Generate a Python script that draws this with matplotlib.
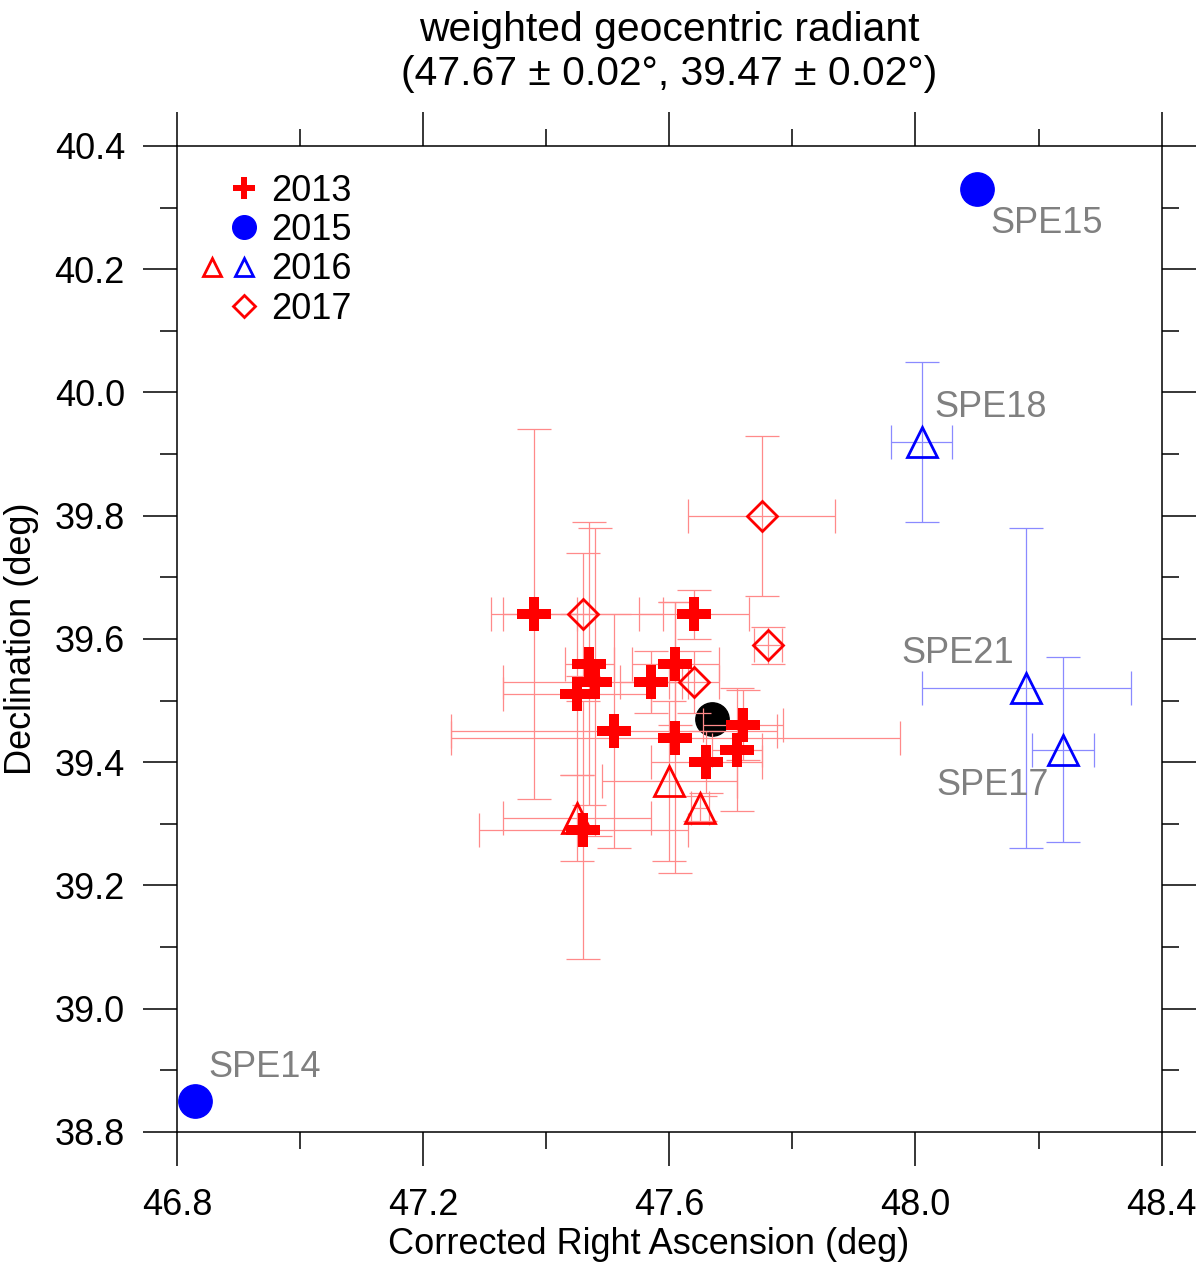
import matplotlib
matplotlib.use("Agg")
import matplotlib.pyplot as plt
from matplotlib.lines import Line2D
from matplotlib.legend_handler import HandlerTuple
from matplotlib.path import Path
from matplotlib.ticker import MultipleLocator

# 2013 (filled crosses)
ra13 = [47.38, 47.64, 47.47, 47.48, 47.45, 47.57, 47.61, 47.51, 47.61, 47.66, 47.72, 47.71, 47.46]
de13 = [39.64, 39.64, 39.56, 39.53, 39.51, 39.53, 39.56, 39.45, 39.44, 39.40, 39.46, 39.42, 39.29]
xerr13 = [0.07, 0.09, 0.04, 0.15, 0.12, 0.05, 0.07, 0.265, 0.365, 0.09, 0.065, 0.04, 0.17]
yerr13 = [0.30, 0.04, 0.23, 0.25, 0.13, 0.05, 0.10, 0.19, 0.22, 0.05, 0.057, 0.10, 0.21]

# 2015 (blue filled circles)
ra15 = [48.10, 46.83]
de15 = [40.33, 38.85]
names15 = ["SPE15", "SPE14"]

# 2016 red (open triangles)
ra16r = [47.60, 47.65, 47.45]
de16r = [39.37, 39.325, 39.31]
xerr16r = [0.11, 0.015, 0.12]
yerr16r = [0.13, 0.02, 0.07]

# 2016 blue (open triangles)
ra16b = [48.01, 48.18, 48.24]
de16b = [39.92, 39.52, 39.42]
xerr16b = [0.05, 0.17, 0.05]
yerr16b = [0.13, 0.26, 0.15]
names16b = ["SPE18", "SPE21", "SPE17"]

# 2017 (open diamonds)
ra17 = [47.75, 47.46, 47.76, 47.64]
de17 = [39.80, 39.64, 39.59, 39.53]
xerr17 = [0.12, 0.13, 0.023, 0.04]
yerr17 = [0.13, 0.10, 0.03, 0.05]

# weighted geocentric radiant
ra_w = 47.67
de_w = 39.47

# label offsets in points (dx, dy, ha)
label_offsets = {
    "SPE15": (10, -25, "left"),
    "SPE14": (9, 24, "left"),
    "SPE18": (9, 25, "left"),
    "SPE21": (-9, 25, "right"),
    "SPE17": (-10, -26, "right"),
}

# plus sign with slightly thinner arms than matplotlib's "P"
_t = 0.15
PLUS = Path([(-_t, -0.5), (_t, -0.5), (_t, -_t), (0.5, -_t), (0.5, _t), (_t, _t),
             (_t, 0.5), (-_t, 0.5), (-_t, _t), (-0.5, _t), (-0.5, -_t), (-_t, -_t),
             (-_t, -0.5)], closed=True)


def main() -> None:
    plt.rcParams["font.family"] = ["Liberation Sans", "DejaVu Sans"]
    fig = plt.figure(figsize=(12, 12.69), dpi=100)
    ax = fig.add_axes([0.1475, 0.108, 0.8205, 0.777])

    red_err = "#ff8a8a"
    blue_err = "#8a8aff"
    ebar = dict(fmt="none", elinewidth=0.9, capsize=12, capthick=0.9, zorder=2)

    ax.plot([ra_w], [de_w], "o", color="black", ms=24, zorder=1)

    ax.errorbar(ra13, de13, xerr=xerr13, yerr=yerr13, ecolor=red_err, **ebar)
    ax.errorbar(ra16r, de16r, xerr=xerr16r, yerr=yerr16r, ecolor=red_err, **ebar)
    ax.errorbar(ra17, de17, xerr=xerr17, yerr=yerr17, ecolor=red_err, **ebar)
    ax.errorbar(ra16b, de16b, xerr=xerr16b, yerr=yerr16b, ecolor=blue_err, **ebar)

    ax.plot(ra13, de13, marker=PLUS, color="red", ms=24, mew=0, ls="none", zorder=3)
    ax.plot(ra16r, de16r, "^", mfc="none", mec="red", ms=22, mew=2, ls="none", zorder=3)
    ax.plot(ra17, de17, "D", mfc="none", mec="red", ms=15.5, mew=2, ls="none", zorder=3)
    ax.plot(ra16b, de16b, "^", mfc="none", mec="blue", ms=22, mew=2, ls="none", zorder=3)
    ax.plot(ra15, de15, "o", color="blue", ms=24, ls="none", zorder=3)

    for x, y, name in zip(ra15 + ra16b, de15 + de16b, names15 + names16b):
        dx, dy, ha = label_offsets[name]
        ax.annotate(name, (x, y), xytext=(dx, dy), textcoords="offset points",
                    ha=ha, va="center", fontsize=26, color="#808080")

    ax.set_xlim(46.8, 48.4)
    ax.set_ylim(38.8, 40.4)
    ax.xaxis.set_major_locator(MultipleLocator(0.4))
    ax.xaxis.set_minor_locator(MultipleLocator(0.2))
    ax.yaxis.set_major_locator(MultipleLocator(0.2))
    ax.yaxis.set_minor_locator(MultipleLocator(0.1))
    ax.xaxis.set_major_formatter(lambda v, p: f"{v:.1f}")
    ax.yaxis.set_major_formatter(lambda v, p: f"{v:.1f}")
    ax.tick_params(which="both", direction="out", top=True, right=True, width=1.1)
    ax.tick_params(which="major", length=24.5, labelsize=26)
    ax.tick_params(which="minor", length=12.5)
    ax.tick_params(axis="x", which="major", pad=16)
    ax.tick_params(axis="y", which="major", pad=13)
    for s in ax.spines.values():
        s.set_linewidth(1.1)

    ax.set_xlabel("Corrected Right Ascension (deg)", fontsize=26, labelpad=3)
    ax.xaxis.label.set_x(0.479)
    ax.set_ylabel("Declination (deg)", fontsize=26, labelpad=11)
    ax.set_title("weighted geocentric radiant\n(47.67 ± 0.02°, 39.47 ± 0.02°)",
                 fontsize=29.4, pad=44, linespacing=1.2)

    blank = Line2D([], [], ls="none")
    h13 = (blank, Line2D([], [], ls="none", marker=PLUS, color="red", ms=16.5, mew=0))
    h15 = (blank, Line2D([], [], ls="none", marker="o", color="blue", ms=17))
    h16 = (Line2D([], [], ls="none", marker="^", mfc="none", mec="red", ms=13, mew=2),
           Line2D([], [], ls="none", marker="^", mfc="none", mec="blue", ms=13, mew=2))
    h17 = (blank, Line2D([], [], ls="none", marker="D", mfc="none", mec="red", ms=11, mew=2))
    ax.legend([h13, h15, h16, h17], ["2013", "2015", "2016", "2017"],
              handler_map={tuple: HandlerTuple(ndivide=None, pad=0)},
              loc="upper left", bbox_to_anchor=(0.0195, 0.972), borderaxespad=0,
              borderpad=0, frameon=False, fontsize=26, handlelength=1.78,
              handletextpad=0.3, labelspacing=0.12)

    fig.savefig("out.png", dpi=100)
    plt.close(fig)


if __name__ == "__main__":
    main()
